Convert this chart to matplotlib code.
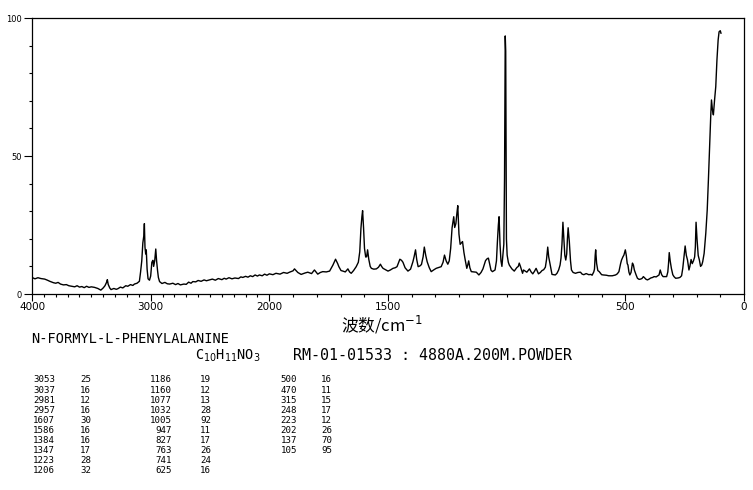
import numpy as np
import matplotlib
matplotlib.use("Agg")
import matplotlib.pyplot as plt
from matplotlib.ticker import FixedLocator, NullFormatter

# ---------------- data ----------------
wavenumber = [
    4000, 3975, 3950, 3925, 3893, 3870, 3850, 3820, 3800, 3780, 3760, 3735, 3710, 3690, 3665, 3640,
    3620, 3600, 3580, 3560, 3540, 3520, 3500, 3473, 3445, 3420, 3400, 3385, 3372, 3365, 3358, 3345,
    3334, 3310, 3290, 3277, 3255, 3235, 3210, 3193, 3170, 3150, 3137, 3115, 3095, 3085, 3075, 3066,
    3058, 3053, 3048, 3042, 3037, 3030, 3022, 3010, 3000, 2990, 2981, 2975, 2966, 2957, 2950, 2942,
    2935, 2925, 2905, 2880, 2860, 2840, 2813, 2790, 2770, 2750, 2720, 2700, 2680, 2660, 2645, 2620,
    2600, 2575, 2550, 2530, 2504, 2480, 2455, 2430, 2400, 2380, 2364, 2340, 2315, 2290, 2260, 2240,
    2224, 2200, 2180, 2160, 2140, 2120, 2100, 2084, 2060, 2040, 2020, 2000,
    1985, 1972, 1955, 1940, 1925, 1915, 1900, 1894, 1880, 1866, 1850, 1838, 1822, 1810, 1796, 1785,
    1775, 1760, 1746, 1732, 1721, 1712, 1707, 1698, 1690, 1680, 1669, 1662, 1655, 1645, 1634, 1625,
    1619, 1614, 1610, 1607, 1603, 1599, 1594, 1590, 1586, 1581, 1575, 1570, 1560, 1549, 1540, 1532,
    1527, 1521, 1510, 1500, 1490, 1479, 1470, 1462, 1455, 1450, 1443, 1437, 1428, 1416, 1405, 1395,
    1390, 1384, 1379, 1373, 1365, 1359, 1352, 1347, 1341, 1335, 1326, 1318, 1308, 1297, 1286, 1276,
    1268, 1262, 1255, 1248, 1242, 1236, 1230, 1223, 1219, 1214, 1210, 1206, 1201, 1196, 1191, 1186,
    1180, 1175, 1168, 1164, 1160, 1155, 1149, 1140, 1128, 1117, 1108, 1100, 1089, 1082, 1077, 1072,
    1066, 1060, 1049, 1043, 1039, 1035, 1032, 1028, 1024, 1020, 1016, 1012, 1009, 1006, 1004, 1001,
    998, 993, 989, 978, 968, 957, 951, 947, 942, 933, 929, 915, 904, 897, 890, 883,
    876, 866, 858, 851, 844, 837, 832, 827, 823, 819, 809, 795, 788, 781, 775, 771,
    767, 763, 759, 755, 751, 747, 744, 741, 736, 731, 727, 720, 710, 700, 689, 682,
    675, 665, 654, 645, 640, 633, 630, 627, 625, 621, 616, 610, 600, 593, 580, 570,
    555, 541, 534, 527, 520, 516, 510, 506, 500, 496, 492, 489, 485, 481, 476, 470,
    466, 462, 455, 449, 442, 436, 430, 424, 418, 414, 407, 400, 393, 385, 379, 370,
    365, 358, 353, 347, 341, 333, 326, 321, 318, 315, 311, 306, 300, 295, 288, 278,
    270, 263, 258, 253, 248, 243, 238, 232, 228, 223, 218, 213, 208, 205, 202, 198,
    193, 188, 183, 178, 174, 168, 161, 155, 150, 145, 140, 137, 133, 129, 124, 119,
    114, 109, 105, 100, 97,
]
intensity = [
    6.0, 5.5, 5.9, 5.6, 5.4, 5.0, 4.6, 4.1, 3.9, 4.2, 3.6, 3.3, 3.4, 3.0, 2.8, 2.6,
    3.0, 2.5, 2.7, 2.3, 2.8, 2.4, 2.6, 2.4, 2.0, 1.4, 2.2, 3.0, 4.2, 5.2, 3.5, 2.2,
    1.6, 2.0, 1.7, 1.9, 2.5, 2.2, 3.0, 2.8, 3.4, 3.1, 3.6, 3.9, 4.6, 8.0, 12.0, 18.5,
    21.0, 25.5, 17.0, 14.5, 16.0, 9.0, 5.5, 5.0, 6.5, 11.5, 12.2, 10.0, 12.0, 16.3, 12.0, 8.5,
    6.0, 4.5, 3.8, 4.2, 3.7, 3.6, 3.9, 3.4, 3.8, 3.3, 3.6, 3.5, 4.3, 3.9, 4.5, 4.4,
    4.9, 4.6, 5.1, 4.8, 5.1, 5.4, 5.0, 5.6, 5.2, 5.7, 5.4, 5.9, 5.5, 5.8, 5.6, 6.2,
    6.0, 6.4, 6.1, 6.6, 6.3, 6.9, 6.5, 6.9, 6.6, 7.2, 6.8, 7.3,
    7.0, 7.5, 7.2, 7.8, 7.5, 7.9, 8.4, 9.1, 7.8, 7.1, 7.6, 7.9, 7.4, 8.7, 7.2, 7.8,
    8.1, 8.0, 8.3, 10.5, 12.6, 11.0, 9.9, 8.5, 8.3, 8.0, 9.1, 8.0, 7.5, 8.5, 9.9, 11.5,
    15.3, 23.8, 28.0, 30.2, 24.0, 16.5, 13.4, 13.5, 16.0, 12.6, 10.0, 9.3, 9.0, 9.1, 9.7, 10.8,
    10.0, 9.3, 8.8, 8.3, 8.7, 9.3, 9.5, 9.9, 11.5, 12.6, 12.2, 11.5, 9.5, 8.3, 9.0, 11.7,
    13.5, 16.0, 12.5, 9.9, 10.2, 10.7, 13.5, 17.0, 14.0, 11.7, 9.5, 8.1, 8.7, 9.3, 9.6, 9.9,
    11.5, 14.1, 12.0, 10.8, 12.0, 16.5, 24.0, 28.0, 24.1, 25.5, 29.0, 32.0, 21.7, 18.0, 18.5, 19.0,
    15.0, 12.5, 9.3, 10.5, 12.0, 9.5, 8.1, 8.0, 7.9, 6.9, 7.8, 9.1, 12.1, 12.8, 13.0, 11.0,
    8.6, 8.1, 8.7, 12.0, 19.0, 25.0, 28.0, 18.0, 12.0, 10.0, 14.0, 18.0, 42.0, 93.5, 88.0, 20.0,
    14.1, 11.5, 10.5, 9.1, 8.3, 9.6, 10.0, 11.2, 10.0, 7.5, 8.7, 7.9, 9.1, 8.0, 7.3, 8.2,
    9.3, 7.3, 7.8, 8.5, 8.8, 9.7, 12.5, 17.0, 13.5, 11.7, 7.1, 6.9, 7.5, 8.7, 10.5, 13.0,
    18.0, 26.0, 20.0, 14.0, 12.3, 14.5, 20.0, 24.0, 19.0, 12.0, 8.7, 7.8, 7.5, 7.8, 7.9, 7.2,
    7.0, 7.4, 7.0, 7.1, 6.8, 8.0, 9.0, 14.0, 16.0, 11.1, 8.5, 8.1, 7.0, 6.9, 6.8, 6.6,
    6.6, 6.9, 7.3, 8.1, 11.0, 12.3, 13.5, 14.1, 16.0, 14.0, 11.0, 10.5, 8.0, 6.9, 7.8, 11.2,
    10.5, 8.7, 7.0, 5.7, 5.3, 5.4, 5.6, 6.3, 5.8, 5.4, 5.1, 5.4, 5.8, 6.0, 6.3, 6.2,
    6.5, 6.9, 8.7, 7.0, 6.3, 6.3, 6.3, 8.0, 11.0, 15.0, 12.0, 9.3, 7.0, 6.3, 5.7, 5.8,
    6.0, 6.6, 9.3, 13.5, 17.4, 14.0, 12.3, 8.7, 10.0, 12.5, 11.0, 12.0, 13.4, 17.0, 26.0, 20.0,
    14.0, 12.3, 10.0, 10.5, 11.7, 14.7, 22.0, 30.4, 41.3, 53.4, 64.9, 70.3, 66.7, 64.9, 70.3, 75.1,
    84.8, 92.0, 95.0, 95.4, 94.5,
]

x_major = [4000, 3000, 2000, 1500, 500, 0]
x_major_labels = ["4000", "3000", "2000", "1500", "500", "0"]
y_major = [0, 50, 100]

compound_name = "N-FORMYL-L-PHENYLALANINE"
formula = r"C$_{10}$H$_{11}$NO$_{3}$"
sample_info = "RM-01-01533 : 4880A.200M.POWDER"
xlabel_text = r"波数/cm$^{-1}$"

peak_wn = [3053, 3037, 2981, 2957, 1607, 1586, 1384, 1347, 1223, 1206,
           1186, 1160, 1077, 1032, 1005, 947, 827, 763, 741, 625,
           500, 470, 315, 248, 223, 202, 137, 105]
peak_int = [25, 16, 12, 16, 30, 16, 16, 17, 28, 32,
            19, 12, 13, 28, 92, 11, 17, 26, 24, 16,
            16, 11, 15, 17, 12, 26, 70, 95]

# ---------------- figure ----------------
W, H = 753, 490
fig = plt.figure(figsize=(W / 100, H / 100), dpi=100)
fig.patch.set_facecolor("white")

L, R, T, B = 32, 744, 18, 294
ax = fig.add_axes([L / W, 1 - B / H, (R - L) / W, (B - T) / H])


def fwd(v):
    v = np.asarray(v, dtype=float)
    return np.where(v <= 2000, v, 2000 + (v - 2000) / 2.0)


def inv(p):
    p = np.asarray(p, dtype=float)
    return np.where(p <= 2000, p, 2000 + (p - 2000) * 2.0)


ax.set_xscale("function", functions=(fwd, inv))
ax.plot(wavenumber, intensity, color="black", lw=1.0)
ax.set_xlim(4000, 0)
ax.set_ylim(0, 100)

for s in ax.spines.values():
    s.set_linewidth(0.9)

ax.xaxis.set_major_locator(FixedLocator(x_major))
ax.set_xticklabels(x_major_labels)
ax.xaxis.set_minor_locator(FixedLocator([v for v in range(0, 4001, 100) if v not in x_major]))
ax.xaxis.set_minor_formatter(NullFormatter())
ax.yaxis.set_major_locator(FixedLocator(y_major))
ax.yaxis.set_minor_locator(FixedLocator([v for v in range(0, 101, 10) if v not in y_major]))
ax.yaxis.set_minor_formatter(NullFormatter())

ax.tick_params(axis="x", which="major", direction="out", length=5.0, width=0.8, pad=1.0,
               labelsize=7.5)
ax.tick_params(axis="x", which="minor", direction="out", length=2.4, width=0.8)
ax.tick_params(axis="y", which="major", direction="out", length=5.5, width=0.8, pad=2.0,
               labelsize=6)
ax.tick_params(axis="y", which="minor", direction="out", length=2.2, width=0.8)


def fx(x):
    return x / W


def fy(y):
    return 1 - y / H


fig.text(fx(382), fy(325), xlabel_text, ha="center", va="center", fontsize=12,
         family=["Noto Sans CJK SC", "DejaVu Sans"])

mono = "DejaVu Sans Mono"
fig.text(fx(31), fy(339), compound_name, ha="left", va="center", fontsize=9.8, family=mono)
fig.text(fx(195), fy(356), formula, ha="left", va="center", fontsize=9.8, family=mono)
fig.text(fx(293), fy(355), sample_info, ha="left", va="center", fontsize=10.8, family=mono)

# peak table: three column groups of 10 rows
row0, dy = 380, 10.1
tfs = 6.6
for i, (w, iv) in enumerate(zip(peak_wn, peak_int)):
    col, row = divmod(i, 10)
    y = fy(row0 + row * dy)
    if col == 0:
        fig.text(fx(55), y, str(w), ha="right", va="center", fontsize=tfs, family=mono)
        fig.text(fx(80), y, str(iv), ha="left", va="center", fontsize=tfs, family=mono)
    elif col == 1:
        fig.text(fx(172), y, str(w), ha="right", va="center", fontsize=tfs, family=mono)
        fig.text(fx(200), y, str(iv), ha="left", va="center", fontsize=tfs, family=mono)
    else:
        fig.text(fx(297), y, str(w), ha="right", va="center", fontsize=tfs, family=mono)
        fig.text(fx(321), y, str(iv), ha="left", va="center", fontsize=tfs, family=mono)

fig.savefig("out.png", dpi=100, facecolor="white")
